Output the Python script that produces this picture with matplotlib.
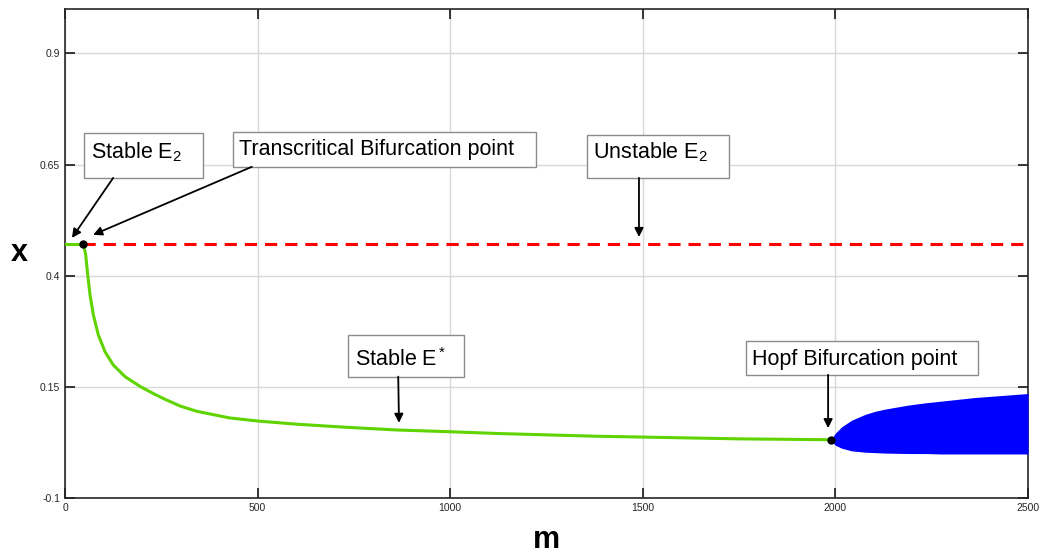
import numpy as np
import matplotlib
matplotlib.use('Agg')
import matplotlib.pyplot as plt
from matplotlib.patches import Rectangle

# equilibrium E2 (x value) and where it loses stability
x_e2 = 0.471
m_tc = 47.5

# stable E2 branch
m_e2_stable = [0, 47.5]

# stable interior equilibrium E*
m_estar = [47.5, 50.5, 53.7, 58.9, 64.9, 73.5, 86.4, 103.8, 125.4, 155.8,
           194.7, 212, 233.6, 259.6, 298.5, 342, 428, 502, 601, 731, 861,
           1000, 1125, 1250, 1375, 1500, 1625, 1750, 1875, 1988]
x_estar = [0.471, 0.460, 0.447, 0.402, 0.357, 0.312, 0.267, 0.229, 0.199,
           0.173, 0.151, 0.143, 0.133, 0.122, 0.107, 0.095, 0.080, 0.073,
           0.066, 0.059, 0.053, 0.049, 0.045, 0.042, 0.039, 0.037, 0.035,
           0.033, 0.032, 0.031]

# Hopf point and periodic orbit envelope
m_hopf = 1988
x_hopf = 0.031
m_orbit = [1988, 1999, 2016, 2042, 2077, 2103, 2129, 2189, 2233, 2276,
           2362, 2500]
x_orbit_max = [0.031, 0.045, 0.060, 0.075, 0.088, 0.095, 0.100, 0.109,
               0.114, 0.118, 0.126, 0.135]
x_orbit_min = [0.031, 0.019, 0.012, 0.006, 0.003, 0.002, 0.001, 0.000,
               0.000, -0.001, -0.001, -0.001]

xticks = [0, 500, 1000, 1500, 2000, 2500]
yticks = [-0.1, 0.15, 0.4, 0.65, 0.9]

plt.rcParams['font.family'] = ['Liberation Sans', 'DejaVu Sans']
plt.rcParams['mathtext.fontset'] = 'custom'
plt.rcParams['mathtext.rm'] = 'Liberation Sans'
plt.rcParams['mathtext.it'] = 'Liberation Sans'

fig = plt.figure(figsize=(10.42, 5.54), dpi=100)
ax = fig.add_axes([0.0624, 0.1011, 0.9242, 0.8827])

green = '#5fd400'
ax.plot(m_e2_stable, [x_e2, x_e2], color=green, lw=2.2, zorder=3)
ax.plot([m_tc, 2500], [x_e2, x_e2], color='red', lw=2.2, dashes=(4, 2.6), zorder=3)
ax.plot(m_estar, x_estar, color=green, lw=2.2, zorder=3, solid_joinstyle='round')
ax.fill_between(m_orbit, x_orbit_min, x_orbit_max, color='#0000ff', lw=0, zorder=3)
ax.plot([m_tc, m_hopf], [x_e2, x_hopf], 'o', color='black', ms=5, zorder=4)

ax.set_xlim(0, 2500)
ax.set_ylim(-0.1, 1.0)
ax.set_xticks(xticks)
ax.set_yticks(yticks)
ax.set_yticklabels(['-0.1', '0.15', '0.4', '0.65', '0.9'])
ax.grid(True, color='#d9d9d9', lw=1)
ax.set_axisbelow(True)
ax.tick_params(direction='in', length=7, width=1.3, labelsize=7.5,
               colors='#262626', top=True, right=True)
for s in ax.spines.values():
    s.set_color('#262626')
    s.set_linewidth(1.2)

# axis labels placed as plain texts so they sit where the reference has them
ax.text(0.5, -0.086, 'm', transform=ax.transAxes, fontsize=22, fontweight='bold',
        ha='center', va='center')
ax.text(-0.047, 0.5, 'x', transform=ax.transAxes, fontsize=22, fontweight='bold',
        ha='center', va='center')

arrow = dict(arrowstyle='-|>', color='black', lw=1.3, mutation_scale=13,
             shrinkA=0, shrinkB=0)

# text, text anchor (left, baseline), box (m0, m1, x0, x1), arrow tail, arrow head
labels = [
    ('Stable E$_2$', (67.5, 0.664), (49, 358, 0.620, 0.721), (125, 0.620), (18, 0.485)),
    ('Transcritical Bifurcation point', (452, 0.671), (435, 1223, 0.645, 0.724),
     (485, 0.645), (73, 0.492)),
    ('Unstable E$_2$', (1371, 0.664), (1355, 1724, 0.620, 0.717), (1490, 0.620), (1490, 0.487)),
    ('Stable E$^*$', (753, 0.197), (735, 1036, 0.173, 0.267), (865, 0.173), (867, 0.069)),
    ('Hopf Bifurcation point', (1783, 0.199), (1768, 2369, 0.177, 0.253),
     (1981, 0.177), (1981, 0.057)),
]
for txt, pos, bx, tail, head in labels:
    ax.add_patch(Rectangle((bx[0], bx[2]), bx[1] - bx[0], bx[3] - bx[2],
                           fc='white', ec='#8c8c8c', lw=1, zorder=5))
    ax.text(pos[0], pos[1], txt, fontsize=15.5, ha='left', va='baseline', zorder=6)
    ax.annotate('', xy=head, xytext=tail, arrowprops=arrow, zorder=5)

fig.savefig('out.png', dpi=100)
